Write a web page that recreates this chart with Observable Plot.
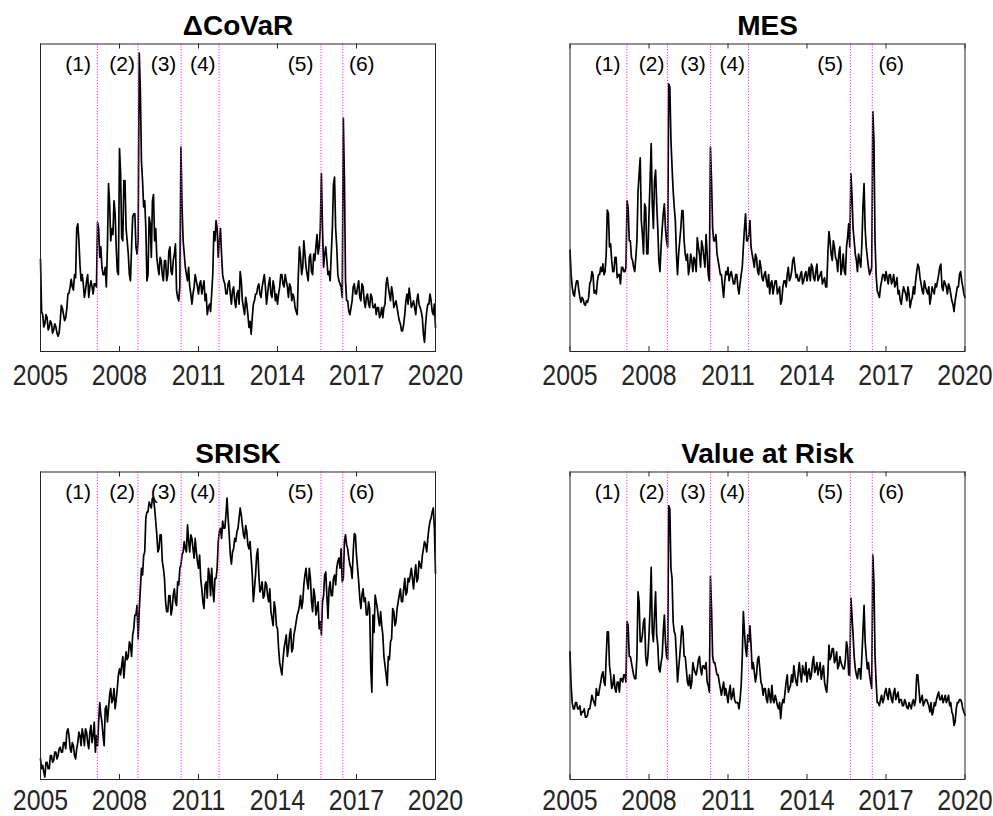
<!DOCTYPE html>
<html>
<head>
<meta charset="utf-8">
<script src="https://cdn.jsdelivr.net/npm/d3@7"></script>
<script src="https://cdn.jsdelivr.net/npm/@observablehq/plot@0.6"></script>
<style>
  html, body { margin: 0; padding: 0; background: #fff; }
  #chart { position: relative; width: 993px; height: 816px; overflow: hidden; background: #fff; }
  #chart svg { position: absolute; }
</style>
</head>
<body>
<div id="chart"></div>
<script>
// Systemic risk measures, twice-monthly readings Jan 2005 - Jan 2020 (index units, y axis hidden)
const startYear = 2005;
const yearTicks = [2005, 2008, 2011, 2014, 2017, 2020];

// Marked events: dates of the dotted lines and where their numbers are written
const eventDates = [2007.16, 2008.70, 2010.34, 2011.78, 2015.65, 2016.48];
const eventLabels = ["(1)", "(2)", "(3)", "(4)", "(5)", "(6)"];
const eventLabelDates = [2006.43, 2008.10, 2009.67, 2011.16, 2014.88, 2017.20];

// Start-of-month values (Jan 2005 ... Jan 2020)
const covar = [
  30, 12, 9, 11, 8, 9, 7, 8, 5, 10, 14, 10,
  14, 19, 23.5, 20, 24, 41.5, 28, 25, 17.6, 23, 17.6, 23,
  18.7, 22, 42, 30.6, 27.4, 25, 21, 54.6, 36, 38, 44.8, 26,
  66, 37, 55.6, 40, 31.7, 23, 43.7, 44.8, 31.7, 97, 62, 47,
  40, 25, 41.5, 49, 36, 30.6, 25, 29.6, 23, 29.6, 25, 34,
  25, 31.7, 19.8, 16.5, 66.5, 36, 27.4, 23, 21, 15.4, 21, 23,
  18.7, 23, 21, 16.5, 12, 15.4, 18.7, 39, 42.6, 30.6, 40, 25,
  22, 18.7, 23, 15.4, 21, 14.3, 19.8, 26, 16.5, 12, 15.4, 7.8,
  5.6, 15.4, 18.7, 21, 18.7, 21, 25, 15.4, 22, 18.7, 23, 16.5,
  15.4, 21, 25, 21, 23, 17.6, 21, 18.7, 14.3, 12, 34, 25,
  36, 27.4, 23, 31.7, 25, 29.6, 38, 34, 57.8, 27.4, 34, 25,
  23, 40, 56.7, 34, 23, 21, 75.8, 23, 16.5, 12, 16.5, 22,
  18.7, 23, 16.5, 21, 14.3, 18.7, 14.3, 17.6, 14.3, 12, 14.3, 12,
  11, 15.4, 24, 18.7, 21, 14.3, 16.5, 12, 9, 6.7, 12, 18.7,
  20.6, 14.3, 16.5, 12, 18.7, 14.3, 11, 3, 13, 15.4, 16.5, 12,
  7.8
];
// Mid-month values (mid Jan 2005 ... mid Dec 2019)
const covarMid = [
  13, 8, 12, 7, 10, 6, 9, 6, 6, 15, 12, 11,
  18.7, 21, 21, 25, 40, 36, 23, 22, 19.8, 25, 21, 21,
  22, 21, 40, 34, 25, 27.4, 34, 48, 40, 49, 34, 25,
  58, 36, 55.6, 36, 25, 34, 44.8, 34, 36, 85, 55.6, 49,
  23, 43.7, 30.6, 51, 40, 27.4, 30.6, 25, 29.6, 23, 32.6, 26,
  29.6, 35, 17.6, 21, 47, 31.7, 25, 27.4, 18.7, 18.7, 25, 21,
  22, 18.7, 23, 18.7, 14.3, 13, 25, 36, 40, 36, 31.7, 23,
  18.7, 22, 18.7, 19.8, 16.5, 18.7, 15.4, 23, 14.3, 17.6, 12, 9.8,
  11, 16.5, 18.7, 22, 17.6, 23, 21, 18.7, 24, 17.6, 21, 18.7,
  18.7, 25, 22, 25, 21, 22, 16.5, 17.6, 13, 25, 30.6, 27.4,
  31.7, 25, 30.6, 26, 31.7, 34, 31.7, 40, 40, 31.7, 29.6, 26,
  31.7, 54.3, 40, 25, 22, 17.6, 55.6, 16.5, 13, 14.3, 21, 18.7,
  21, 17.6, 22, 16.5, 17.6, 15.4, 18.7, 14.3, 15.4, 14.3, 11, 14.3,
  14.3, 22, 21, 16.5, 18.7, 15.4, 14.3, 10, 6.7, 9, 16.5, 15.4,
  17.6, 15.4, 14.3, 16.5, 15.4, 13, 5.6, 9, 15.4, 18.7, 13, 15.4
];

const mes = [
  33, 21, 18, 23, 20, 16, 17, 15, 16, 22, 26, 19,
  18.7, 25, 27.4, 28.5, 26, 46, 34, 29.6, 26, 30.6, 25, 22,
  27.4, 26, 49, 36, 30.6, 27.4, 30.6, 52, 63, 38, 48, 31.7,
  44.8, 67.6, 40, 59, 40, 26, 40, 48, 36, 87, 68.7, 52.4,
  42.6, 25, 36, 45.8, 36, 29.6, 25, 31.7, 26, 29.6, 37, 31.7,
  36, 30.6, 38, 25, 66.5, 40, 36, 31.7, 27.4, 25, 17.6, 26,
  27.4, 25, 24, 22, 25, 18.7, 25, 34, 44.8, 36, 42.6, 31.7,
  27.4, 30.6, 25, 27.4, 23, 26, 21, 18.7, 23, 21, 23, 19.8,
  15.4, 21, 23, 25, 23, 26, 30.6, 24, 23, 25, 22, 25,
  23, 27.4, 28.4, 24, 26, 23, 25, 22, 24, 21, 39, 31.7,
  36, 30.6, 26, 34, 27.4, 26, 34, 41.5, 57.8, 40, 31.7, 26,
  29.6, 34.8, 54.6, 34, 27.4, 26, 78, 36, 19.8, 17.6, 23, 25,
  26, 22, 25, 23, 21, 24, 19.8, 15.4, 21, 18.7, 21, 14.3,
  17.6, 18.7, 26, 27.4, 22, 18.7, 21, 18.7, 15.4, 21, 18.7, 21,
  25, 28.4, 19.8, 22, 18.7, 21, 16.5, 13, 18.7, 21, 26, 21,
  17.6
];
const mesMid = [
  25, 18.7, 21, 23, 17.6, 17.6, 15.4, 16.5, 17.6, 23, 25, 19.8,
  23, 25, 26, 25, 31.7, 44.8, 35, 26, 30.6, 24, 25, 27.4,
  26, 27.4, 46.7, 36, 29.6, 26, 36, 57.8, 42.6, 31.7, 46.7, 31.7,
  55.6, 48, 55.6, 48, 29.6, 34, 44.8, 40, 34, 86, 60, 47,
  31.7, 31.7, 40, 45.8, 31.7, 31.7, 27.4, 29.6, 30.6, 26, 34, 27.4,
  34, 27.4, 31.7, 23, 55.6, 36, 38, 29.6, 25, 21, 23, 25,
  23, 26, 22, 25, 21, 22, 27.4, 40, 36, 38, 34, 29.6,
  31.7, 26, 29.6, 24, 25, 23, 25, 22, 18.7, 23, 18.7, 21,
  16.5, 23, 21, 27.4, 24, 29.6, 27.4, 25, 23, 26, 23, 26,
  25, 23, 27.4, 23, 28.4, 24, 26, 23, 21, 31.7, 36, 29.6,
  34, 29.6, 31.7, 25, 31.7, 25, 37, 34, 51, 36, 29.6, 31.7,
  27.4, 47, 40, 30.6, 25, 27.4, 68.7, 25, 18.7, 21, 25, 23,
  24, 25, 22, 25, 22, 18.7, 16.5, 18.7, 19.8, 16.5, 18.7, 16.5,
  21, 23, 28.4, 24, 19.8, 23, 19.8, 21, 17.6, 19.8, 22, 23,
  27.4, 21, 23, 21, 22, 18.7, 15.4, 16.5, 21, 25, 23, 18.7
];

const srisk = [
  6.7, 4.6, 0.8, 5.6, 3.5, 7.8, 6.2, 8.9, 7.8, 10.5, 8.9, 12,
  15.4, 14.3, 8.9, 11, 6.7, 12, 14.3, 16.5, 11, 15.4, 10, 17.6,
  14.3, 8.9, 11, 25, 18.7, 11, 24, 23, 29.6, 26, 23, 29.6,
  36, 37, 33, 41.5, 40, 43.8, 47, 53.5, 56.6, 55, 68.7, 72.8,
  85, 87, 89.3, 91.5, 88.3, 79.6, 75, 79.6, 68.7, 57.8, 54.6, 59.8,
  55.6, 62, 56.6, 63.3, 69.8, 74, 75, 82.8, 74, 78.4, 72, 74,
  68.7, 65.4, 57.8, 63.3, 59, 66.5, 68.7, 57.8, 65.4, 77.4, 81.7, 84,
  81.7, 91.5, 79.6, 70, 75, 77.4, 81.7, 88.3, 82.6, 78.4, 80.6, 75,
  72, 57.8, 66.5, 75, 61, 64.3, 59.8, 63.3, 57.8, 54.6, 50, 55.6,
  49, 38, 34, 42.6, 47, 42.6, 49, 42.6, 49, 53.5, 56.6, 55.6,
  63.3, 68.7, 62, 65.4, 54.6, 59.8, 55.6, 49, 47, 59.8, 67.5, 52.4,
  64.3, 59.8, 66.5, 68.7, 72, 75, 65.4, 79.6, 75, 69.8, 65.4, 80,
  73, 64.3, 55.6, 62, 59, 53.5, 55.6, 28.4, 47.8, 57.8, 52.4, 54.6,
  47, 37, 30.6, 39, 45.8, 54.6, 51.3, 57.8, 62, 57.8, 65.4, 60.9,
  64.3, 68.7, 62, 69.8, 65.4, 69.8, 72.8, 77.4, 74, 81.7, 85, 88.3,
  67
];
const sriskMid = [
  3.5, 2.4, 5.6, 3.5, 7.8, 5.6, 8.9, 6.7, 10, 8.9, 12, 10,
  16.5, 10, 12, 7.8, 10, 15.4, 11, 14.3, 16.5, 12, 15.4, 12,
  18.7, 14.3, 18.7, 21, 14.3, 23, 18.7, 27.4, 25, 29.6, 26, 34,
  34, 40, 38, 39, 44.8, 40, 49, 53.5, 45.8, 62, 66.5, 74,
  87, 90.2, 88.3, 91.5, 84, 74, 79.6, 71, 65.4, 54.6, 59.8, 53.5,
  60, 57.8, 64.3, 68.7, 73, 77.4, 74, 77.4, 79.6, 75, 78.4, 71,
  73, 62, 55.6, 64.3, 68.7, 59.8, 62, 65.4, 68.7, 80.6, 78.4, 81.7,
  86, 85, 73, 74, 78.4, 80.6, 85, 86, 79.6, 82.6, 76.3, 77.4,
  66.5, 62, 73, 66.5, 62, 59, 64.3, 59.8, 62, 52.4, 57.8, 50,
  42.6, 36, 39, 44.8, 40, 47, 41.5, 47, 51.3, 54.6, 59.8, 57.8,
  66.5, 64.3, 68.7, 57.8, 62, 53.5, 57.8, 51.3, 57.8, 66.5, 59.8, 62,
  59.8, 65.4, 63.3, 71, 68.7, 64.3, 77.4, 76.3, 72, 68.7, 74, 79.6,
  68.7, 59, 60, 57.8, 53.5, 57.8, 36, 53.5, 60, 55.6, 50, 50,
  40, 34, 40, 44.8, 55.6, 50, 55.6, 60, 57.8, 62, 60, 65.4,
  66.5, 65.4, 66.5, 64.3, 71, 68.7, 75, 76.3, 78.4, 84, 87, 81.7
];

const valueAtRisk = [
  41.5, 25, 23, 25, 23, 21, 22, 20.3, 21, 23, 27.4, 25,
  29.6, 27.4, 31.7, 35, 30.6, 48, 37, 29.6, 34, 28.4, 31.7, 32.8,
  31.7, 34, 51.3, 40, 38, 34, 32.8, 61, 44.8, 47, 52.4, 37,
  47, 69, 44.8, 61, 43.7, 35, 40, 53.5, 40, 89, 68.7, 51.3,
  47, 31.7, 40, 50, 40, 36, 30.6, 29.6, 38, 34.8, 36, 40,
  34, 37, 38, 30.6, 66, 40, 38, 34, 31.7, 27.4, 31.7, 29.6,
  25, 30.6, 27.4, 26, 25, 23, 30.6, 54.6, 42.6, 47, 50, 36,
  35, 34, 40, 31.7, 27.4, 29.6, 25, 27.4, 30.6, 25, 26, 23,
  19.8, 26, 28.4, 34, 29.6, 34, 37, 31.7, 34.8, 34, 37, 34,
  31.7, 36, 34, 40, 36, 34, 38, 34.8, 31.7, 28.4, 43.7, 40,
  42.6, 39, 36, 40, 37, 36, 44.8, 34, 59, 47, 36, 32.8,
  36, 40, 56.6, 40, 38, 31.7, 73, 40, 25, 24, 27.4, 26,
  29.6, 26, 28.4, 25, 29.6, 27.4, 25, 26, 24, 25, 23, 24,
  25, 24, 34, 29.6, 26, 24, 26, 25, 22, 21, 25, 26,
  28.4, 26, 25, 27.4, 26, 24, 22, 17.6, 23, 25, 26, 23,
  21
];
const valueAtRiskMid = [
  30.6, 23, 25, 23, 24, 22, 23, 20.3, 23, 25, 26, 24,
  27.4, 29.6, 34, 31.7, 40, 48, 34, 30.6, 29.6, 31.7, 28.4, 32.8,
  34, 31.7, 50, 40, 36, 32.8, 40, 57.8, 44.8, 51.3, 40, 40,
  55.6, 48, 53.5, 47, 36, 38, 48, 44.8, 39, 88, 65.4, 48,
  40, 36, 44.8, 48, 40, 31.7, 34, 31.7, 36, 34, 39, 36,
  37, 36, 31.7, 28.4, 55.6, 38, 36, 34, 29.6, 29.6, 27.4, 27.4,
  28.4, 26, 29.6, 25, 25, 26, 40, 48, 40, 44.8, 43.7, 38,
  31.7, 39, 36, 30.6, 29.6, 26, 29.6, 25, 26, 27.4, 24, 25,
  24, 25, 31.7, 28.4, 30.6, 31.7, 34, 30.6, 38, 31.7, 34.8, 38,
  34.8, 32.6, 38, 34.8, 38, 36, 32.6, 37, 29.6, 34, 39, 42.6,
  38, 41.5, 37, 38, 36, 39, 42.6, 34, 53.5, 40, 34, 36,
  32.6, 48, 44.8, 36, 34, 29.6, 64.3, 31.7, 25, 26, 25, 28.4,
  27.4, 29.6, 26, 28.4, 26, 28.4, 26, 24, 26, 23.4, 25, 23,
  26, 26, 34, 25, 27.4, 25, 26, 24, 25, 22, 24, 27.4,
  26, 27.4, 26, 25, 27.4, 25, 21, 18.7, 25, 26, 25, 22
];

// Four panels in a 2 x 2 grid
const panels = [
  {title: "\u0394CoVaR", values: covar, mid: covarMid, left: 0, top: 0, width: 497, height: 408,
   marginLeft: 40, marginRight: 62, marginTop: 43.5, marginBottom: 57, tickPadding: 12},
  {title: "MES", values: mes, mid: mesMid, left: 497, top: 0, width: 496, height: 408,
   marginLeft: 72.5, marginRight: 28.5, marginTop: 43.5, marginBottom: 57, tickPadding: 12},
  {title: "SRISK", values: srisk, mid: sriskMid, left: 0, top: 408, width: 497, height: 408,
   marginLeft: 40, marginRight: 62, marginTop: 63.5, marginBottom: 37, tickPadding: 9},
  {title: "Value at Risk", values: valueAtRisk, mid: valueAtRiskMid, left: 497, top: 408, width: 496, height: 408,
   marginLeft: 72.5, marginRight: 28.5, marginTop: 63.5, marginBottom: 37, tickPadding: 9}
];

const axisColor = "#262626";
const eventColor = "#ff33ff";
const labelRows = eventLabels.map((label, i) => ({label, date: eventLabelDates[i]}));

// Interleave start-of-month and mid-month readings into one time series
function toSeries(values, mid) {
  const rows = [];
  values.forEach((value, i) => {
    rows.push({date: startYear + i / 12, value});
    if (i < mid.length) rows.push({date: startYear + (i + 0.5) / 12, value: mid[i]});
  });
  return rows;
}

const chart = document.getElementById("chart");

for (const p of panels) {
  const series = toSeries(p.values, p.mid);
  const innerHeight = p.height - p.marginTop - p.marginBottom;
  const svg = Plot.plot({
    width: p.width,
    height: p.height,
    marginLeft: p.marginLeft,
    marginRight: p.marginRight,
    marginTop: p.marginTop,
    marginBottom: p.marginBottom,
    x: {domain: [2005, 2020]},
    y: {domain: [0, 100], axis: null},
    style: {
      fontFamily: "'Liberation Sans', Arial, Helvetica, sans-serif",
      background: "transparent",
      overflow: "visible"
    },
    marks: [
      Plot.lineY(series, {x: "date", y: "value", stroke: "#000", strokeWidth: 1.7}),
      Plot.ruleX(eventDates, {x: d => d, stroke: eventColor, strokeWidth: 1.1, strokeDasharray: "1.2,1.6"}),
      Plot.text(labelRows, {
        x: "date", text: "label", frameAnchor: "top", dy: 20,
        lineAnchor: "middle", fontSize: 21, fill: "#000"
      }),
      // inward ticks on the bottom and top edges of the box
      Plot.tickX(yearTicks, {x: d => d, insetTop: innerHeight - 5, stroke: axisColor}),
      Plot.tickX(yearTicks, {x: d => d, insetBottom: innerHeight - 5, stroke: axisColor}),
      Plot.axisX({
        ticks: yearTicks, tickSize: 0, tickPadding: p.tickPadding, tickFormat: d => String(d),
        fontSize: 30, fill: axisColor, label: null
      }),
      Plot.frame({stroke: axisColor}),
      Plot.text([p.title], {
        frameAnchor: "top", dy: -9.5, lineAnchor: "bottom",
        fontSize: 28, fontWeight: "bold", fill: "#000"
      })
    ]
  });
  // year labels are set in a narrow face: squeeze each one horizontally about its centre
  svg.querySelectorAll('[aria-label="x-axis tick label"] text').forEach(t => {
    const tr = t.getAttribute("transform") || "";
    t.setAttribute("transform", tr + " scale(0.83,1)");
  });
  svg.style.left = p.left + "px";
  svg.style.top = p.top + "px";
  chart.appendChild(svg);
}
</script>
</body>
</html>
